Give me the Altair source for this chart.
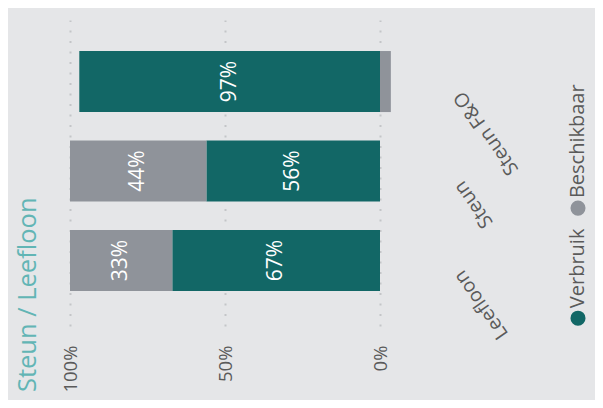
import altair as alt
import pandas as pd

# ---- data ----
categories = ["Steun F&O", "Steun", "Leefloon"]
verbruik = [97, 56, 67]
beschikbaar = [-3.5, 44, 33]
series = ["Verbruik", "Beschikbaar"]
colors = ["#126766", "#8f939a"]
tick_values = [0, 50, 100]
chart_title = "Steun / Leefloon"

FONT = "Open Sans"
BG = "#e5e6e8"
LABEL_COLOR = "#5a5a5a"

rows = []
for c, v, b in zip(categories, verbruik, beschikbaar):
    rows.append(dict(cat=c, series="Verbruik", value=v, order=0,
                     mid=v / 2, label=f"{v:g}%"))
    rows.append(dict(cat=c, series="Beschikbaar", value=b, order=1,
                     mid=(v + b / 2) if b > 0 else 0.0,
                     label=f"{b:g}%" if b > 0 else ""))
df = pd.DataFrame(rows)
df_lab = df[df["label"] != ""]

leg_df = pd.DataFrame({"series": series})

color = alt.Color("series:N", scale=alt.Scale(domain=series, range=colors), legend=None)

y_scale = alt.Scale(paddingInner=0.318, paddingOuter=0.369, align=0.47)
x_scale = alt.Scale(domain=[0, 100], reverse=True, nice=False, zero=True)

y_axis = alt.Axis(orient="right", title=None, domain=False, ticks=False, tickSize=0,
                  labelAngle=235, labelAlign="right", labelBaseline="middle",
                  labelPadding=78, labelOffset=12, labelFontSize=19.5,
                  labelColor=LABEL_COLOR, labelFont=FONT, grid=False)
x_axis = alt.Axis(values=tick_values, title=None, domain=False, ticks=False, tickSize=0,
                  labelAngle=270, labelAlign="right", labelBaseline="middle",
                  labelPadding=19, labelFontSize=18.5, labelColor=LABEL_COLOR,
                  labelFont=FONT, labelExpr="datum.value + '%'",
                  grid=True, gridDash=[2, 8.5], gridColor="#c4c5c8", gridWidth=2)

bars = alt.Chart(df).mark_bar().encode(
    y=alt.Y("cat:N", sort=categories, scale=y_scale, axis=y_axis),
    x=alt.X("value:Q", stack="zero", scale=x_scale, axis=x_axis),
    color=color,
    order=alt.Order("order:Q"),
)

texts = alt.Chart(df_lab).mark_text(
    angle=270, color="white", fontSize=21, font=FONT,
    align="center", baseline="middle"
).encode(
    y=alt.Y("cat:N", sort=categories, scale=y_scale, axis=y_axis),
    x=alt.X("mid:Q", scale=x_scale, axis=x_axis),
    text="label:N",
)

leg_y = alt.Y("series:N", sort=["Beschikbaar", "Verbruik"],
              scale=alt.Scale(type="point", domain=["Beschikbaar", "Verbruik"],
                              padding=0.89, align=0.96),
              axis=None)

leg_pts = alt.Chart(leg_df).mark_point(filled=True, size=227, opacity=1, shape="circle").encode(
    x=alt.value(508), y=leg_y, color=color,
)
leg_txt = alt.Chart(leg_df).mark_text(
    angle=270, align="left", baseline="middle", dx=10, fontSize=20,
    font=FONT, color=LABEL_COLOR
).encode(
    x=alt.value(508), y=leg_y, text="series:N",
)

main = alt.layer(bars, texts)
legend = alt.layer(leg_pts, leg_txt)

chart = alt.layer(main, legend).resolve_scale(y="independent").properties(
    width=310,
    height=306,
    autosize=alt.AutoSizeParams(type="none"),
    padding={"left": 62, "top": 12, "right": 215, "bottom": 74},
    background=BG,
    title=alt.TitleParams(chart_title, orient="left", anchor="start", frame="bounds",
                          fontSize=25.5, font=FONT, fontWeight="normal",
                          color="#62b5b5", offset=20),
).configure_view(stroke=None)

chart.save("out.html", embed_options={"renderer": "svg", "actions": False})
